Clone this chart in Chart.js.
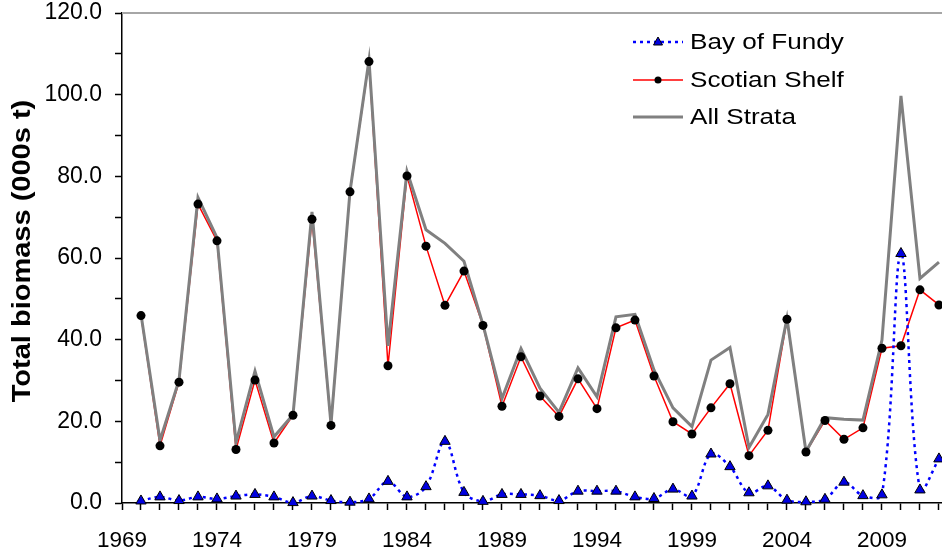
<!DOCTYPE html>
<html>
<head>
<meta charset="utf-8">
<script src="https://cdn.jsdelivr.net/npm/chart.js@4"></script>
<style>
  html, body { margin: 0; padding: 0; background: #fff; }
  canvas { display: block; }
</style>
</head>
<body>
<canvas id="chart" width="942" height="558"></canvas>
<script>
const years = [1970, 1971, 1972, 1973, 1974, 1975, 1976, 1977, 1978, 1979,
  1980, 1981, 1982, 1983, 1984, 1985, 1986, 1987, 1988, 1989,
  1990, 1991, 1992, 1993, 1994, 1995, 1996, 1997, 1998, 1999,
  2000, 2001, 2002, 2003, 2004, 2005, 2006, 2007, 2008, 2009,
  2010, 2011, 2012];

const bayOfFundy = [0.5, 1.5, 0.6, 1.5, 1.0, 1.7, 2.1, 1.5, 0.1, 1.7,
  0.6, 0.2, 1.0, 5.3, 1.5, 4.0, 15.1, 2.6, 0.4, 2.1,
  2.1, 1.8, 0.6, 2.9, 2.9, 2.9, 1.5, 1.1, 3.4, 1.7,
  12.0, 8.9, 2.5, 4.2, 0.7, 0.3, 0.9, 5.1, 1.8, 2.0,
  61.1, 3.2, 10.8];

const scotianShelf = [45.9, 14.0, 29.6, 73.2, 64.2, 13.1, 30.1, 14.7, 21.5, 69.5,
  19.0, 76.2, 108.1, 33.6, 80.1, 62.9, 48.4, 56.8, 43.5, 23.7,
  35.8, 26.2, 21.2, 30.4, 23.1, 42.9, 44.8, 31.1, 19.9, 16.9,
  23.3, 29.2, 11.6, 17.8, 45.0, 12.5, 20.2, 15.6, 18.4, 37.9,
  38.5, 52.2, 48.5];

const allStrata = [46.2, 15.3, 30.1, 74.8, 65.0, 14.8, 32.3, 16.2, 21.6, 71.3,
  19.3, 76.3, 108.5, 38.5, 81.2, 66.9, 63.6, 59.2, 43.7, 25.6,
  37.8, 28.1, 22.2, 33.1, 26.0, 45.6, 46.2, 32.6, 23.3, 18.7,
  35.0, 38.1, 13.6, 21.7, 45.2, 12.6, 20.9, 20.5, 20.3, 39.9,
  99.7, 55.0, 59.0];

const xTickLabels = [1969, 1974, 1979, 1984, 1989, 1994, 1999, 2004, 2009];
const yTickLabels = [0, 20, 40, 60, 80, 100, 120];

const FONT = "'Liberation Sans', Arial, sans-serif";

function pts(values) {
  return years.map((yr, i) => ({ x: yr, y: values[i] }));
}

// plot-area top border, y title and the legend
const extras = {
  id: 'extras',
  beforeDatasetsDraw(chart) {
    const { ctx, chartArea } = chart;
    ctx.save();
    ctx.strokeStyle = '#a6a6a6';
    ctx.lineWidth = 2;
    ctx.beginPath();
    ctx.moveTo(chartArea.left, chartArea.top);
    ctx.lineTo(chartArea.right + 2, chartArea.top);
    ctx.stroke();
    ctx.restore();
  },
  afterDraw(chart) {
    const { ctx } = chart;
    ctx.save();
    // y title
    ctx.translate(23, 251);
    ctx.rotate(-Math.PI / 2);
    ctx.scale(1.16, 1);
    ctx.font = "bold 25px " + FONT;
    ctx.fillStyle = '#000';
    ctx.textAlign = 'center';
    ctx.textBaseline = 'middle';
    ctx.fillText('Total biomass (000s t)', 0, 0);
    ctx.restore();

    const items = [
      { text: 'Bay of Fundy', y: 42, color: '#0000ff', width: 2.5, dash: [3, 4], marker: 'triangle' },
      { text: 'Scotian Shelf', y: 80, color: '#ff0000', width: 1.5, dash: [], marker: 'circle' },
      { text: 'All Strata', y: 117, color: '#808080', width: 3, dash: [], marker: null }
    ];
    items.forEach(it => {
      ctx.save();
      ctx.strokeStyle = it.color;
      ctx.lineWidth = it.width;
      ctx.setLineDash(it.dash);
      ctx.beginPath();
      ctx.moveTo(633, it.y);
      ctx.lineTo(683, it.y);
      ctx.stroke();
      ctx.setLineDash([]);
      if (it.marker === 'triangle') {
        ctx.fillStyle = '#0000e0';
        ctx.strokeStyle = '#000';
        ctx.lineWidth = 1;
        ctx.beginPath();
        ctx.moveTo(658, it.y - 5);
        ctx.lineTo(662.5, it.y + 3);
        ctx.lineTo(653.5, it.y + 3);
        ctx.closePath();
        ctx.fill();
        ctx.stroke();
      } else if (it.marker === 'circle') {
        ctx.fillStyle = '#000';
        ctx.beginPath();
        ctx.arc(658, it.y, 3.5, 0, Math.PI * 2);
        ctx.fill();
      }
      ctx.translate(690, it.y);
      ctx.scale(1.16, 1);
      ctx.font = "22.5px " + FONT;
      ctx.fillStyle = '#000';
      ctx.textAlign = 'left';
      ctx.textBaseline = 'middle';
      ctx.fillText(it.text, 0, 1);
      ctx.restore();
    });
  }
};

const ctx = document.getElementById('chart').getContext('2d');

new Chart(ctx, {
  type: 'line',
  data: {
    datasets: [
      {
        label: 'Scotian Shelf line',
        data: pts(scotianShelf),
        borderColor: '#ff0000',
        borderWidth: 1.5,
        pointRadius: 0,
        tension: 0,
        clip: false,
        order: 4
      },
      {
        label: 'All Strata',
        data: pts(allStrata),
        borderColor: '#808080',
        borderWidth: 3,
        pointRadius: 0,
        tension: 0,
        clip: false,
        order: 3
      },
      {
        label: 'Scotian Shelf',
        data: pts(scotianShelf),
        showLine: false,
        pointStyle: 'circle',
        pointRadius: 4.5,
        pointBackgroundColor: '#000',
        pointBorderColor: '#000',
        pointBorderWidth: 0,
        clip: false,
        order: 2
      },
      {
        label: 'Bay of Fundy',
        data: pts(bayOfFundy),
        borderColor: '#0000ff',
        borderWidth: 2.5,
        borderDash: [3, 4],
        tension: 0.35,
        pointStyle: 'triangle',
        pointRadius: 6,
        pointBackgroundColor: '#0000e0',
        pointBorderColor: '#000',
        pointBorderWidth: 1,
        clip: false,
        order: 1
      }
    ]
  },
  options: {
    responsive: false,
    animation: false,
    devicePixelRatio: 1,
    layout: { autoPadding: false, padding: { top: 13, left: 0, right: 0, bottom: 0 } },
    plugins: {
      legend: { display: false },
      tooltip: { enabled: false }
    },
    scales: {
      x: {
        type: 'linear',
        min: 1969,
        max: 2012.16,
        afterBuildTicks: s => {
          const t = [{ value: 1969 }];
          years.forEach(v => t.push({ value: v }));
          s.ticks = t;
        },
        afterFit: s => {
          s.height = 55;
          s.paddingLeft = 0;
          s.paddingRight = 0;
        },
        ticks: {
          autoSkip: false,
          maxRotation: 0,
          padding: 17,
          color: '#000',
          font: { family: FONT, size: 22.5 },
          callback: v => xTickLabels.includes(v) ? String(v) : ''
        },
        grid: { drawOnChartArea: false, tickLength: 7, tickColor: '#000', tickWidth: 1.5 },
        border: { color: '#000', width: 1.5 }
      },
      y: {
        min: 0,
        max: 120,
        ticks: {
          stepSize: 5,
          padding: 13,
          color: '#000',
          font: { family: FONT, size: 23 },
          callback: v => yTickLabels.includes(v) ? v.toFixed(1) : ''
        },
        afterFit: s => {
          s.width = 122;
          s.paddingTop = 0;
          s.paddingBottom = 0;
        },
        grid: { drawOnChartArea: false, tickLength: 7, tickColor: '#000', tickWidth: 1.5 },
        border: { color: '#000', width: 1.5 }
      }
    }
  },
  plugins: [extras]
});
</script>
</body>
</html>
